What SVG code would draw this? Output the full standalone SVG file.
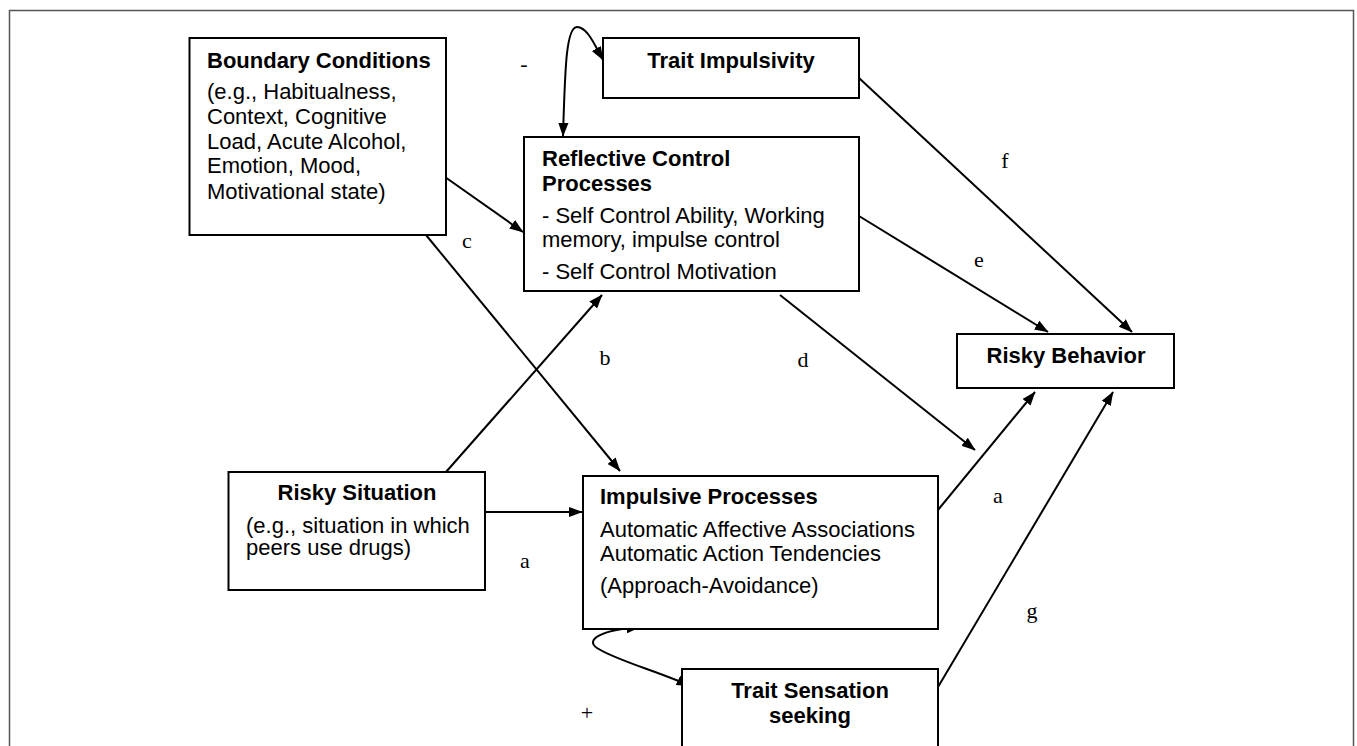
<svg xmlns="http://www.w3.org/2000/svg" width="1357" height="746" viewBox="0 0 1357 746">
<style>
.box{fill:#fff;stroke:#000;stroke-width:2}
.t{font-family:"Liberation Sans",Arial,sans-serif;font-size:22px;fill:#000}
.b{font-weight:bold}
.m{text-anchor:middle}
.lab{font-family:"Liberation Serif","Times New Roman",serif;font-size:22px;fill:#000;text-anchor:middle}
.ln{fill:none;stroke:#000;stroke-width:2}
</style>
<defs>
<marker id="ah" viewBox="0 0 10 10" refX="9.5" refY="5" markerWidth="7" markerHeight="7" markerUnits="strokeWidth" orient="auto-start-reverse">
<path d="M0,1.3 L10,5 L0,8.7 z" fill="#000"/>
</marker>
</defs>
<rect x="9.5" y="10.5" width="1344" height="760" fill="#fff" stroke="#555" stroke-width="1.5"/>

<g id="connectors">
<line class="ln" x1="445" y1="177" x2="523" y2="232" marker-end="url(#ah)"/>
<line class="ln" x1="426" y1="235" x2="620" y2="471" marker-end="url(#ah)"/>
<line class="ln" x1="446" y1="472" x2="602" y2="295" marker-end="url(#ah)"/>
<line class="ln" x1="485" y1="512" x2="582" y2="512" marker-end="url(#ah)"/>
<line class="ln" x1="780" y1="295" x2="975" y2="450" marker-end="url(#ah)"/>
<line class="ln" x1="938" y1="510" x2="1035" y2="392" marker-end="url(#ah)"/>
<line class="ln" x1="859" y1="216" x2="1048" y2="332" marker-end="url(#ah)"/>
<line class="ln" x1="859" y1="78" x2="1132" y2="332" marker-end="url(#ah)"/>
<line class="ln" x1="938" y1="687" x2="1113" y2="392" marker-end="url(#ah)"/>
<path class="ln" d="M563,136 C565,70 566,27 577,27 C588,27 596,48 603,60" marker-start="url(#ah)" marker-end="url(#ah)"/>
<path class="ln" d="M640,627 C600,630 585,640 597,648 C615,660 660,672 690,686" marker-start="url(#ah)" marker-end="url(#ah)"/>
</g>

<g id="boundary">
<rect class="box" x="189.5" y="38" width="256.5" height="197"/>
<text class="t b" x="207" y="68">Boundary Conditions</text>
<text class="t" x="207" y="99">(e.g., Habitualness,</text>
<text class="t" x="207" y="124">Context, Cognitive</text>
<text class="t" x="207" y="149">Load, Acute Alcohol,</text>
<text class="t" x="207" y="173">Emotion, Mood,</text>
<text class="t" x="207" y="199">Motivational state)</text>
</g>

<g id="trait-impulsivity">
<rect class="box" x="603" y="38" width="256" height="60"/>
<text class="t b m" x="731" y="68">Trait Impulsivity</text>
</g>

<g id="reflective">
<rect class="box" x="524" y="137" width="335" height="154"/>
<text class="t b" x="542" y="166">Reflective Control</text>
<text class="t b" x="542" y="191">Processes</text>
<text class="t" x="542" y="223">- Self Control Ability, Working</text>
<text class="t" x="542" y="247">memory, impulse control</text>
<text class="t" x="542" y="279">- Self Control Motivation</text>
</g>

<g id="risky-behavior">
<rect class="box" x="957" y="334" width="217" height="54"/>
<text class="t b m" x="1066" y="363">Risky Behavior</text>
</g>

<g id="risky-situation">
<rect class="box" x="228.5" y="472" width="256.5" height="118"/>
<text class="t b m" x="357" y="500">Risky Situation</text>
<text class="t" x="246" y="533">(e.g., situation in which</text>
<text class="t" x="246" y="555">peers use drugs)</text>
</g>

<g id="impulsive">
<rect class="box" x="583" y="476" width="355" height="153"/>
<text class="t b" x="600" y="504">Impulsive Processes</text>
<text class="t" x="600" y="537">Automatic Affective Associations</text>
<text class="t" x="600" y="561">Automatic Action Tendencies</text>
<text class="t" x="600" y="593"> (Approach-Avoidance)</text>
</g>

<g id="trait-sensation">
<rect class="box" x="682" y="669" width="256" height="100"/>
<text class="t b m" x="810" y="698">Trait Sensation</text>
<text class="t b m" x="810" y="723">seeking</text>
</g>

<g id="labels">
<text class="lab" x="524" y="71">-</text>
<text class="lab" x="467" y="248">c</text>
<text class="lab" x="1005" y="168">f</text>
<text class="lab" x="979" y="267">e</text>
<text class="lab" x="605" y="365">b</text>
<text class="lab" x="803" y="367">d</text>
<text class="lab" x="998" y="503">a</text>
<text class="lab" x="525" y="568">a</text>
<text class="lab" x="1032" y="618">g</text>
<text class="lab" x="587" y="720">+</text>
</g>
</svg>
